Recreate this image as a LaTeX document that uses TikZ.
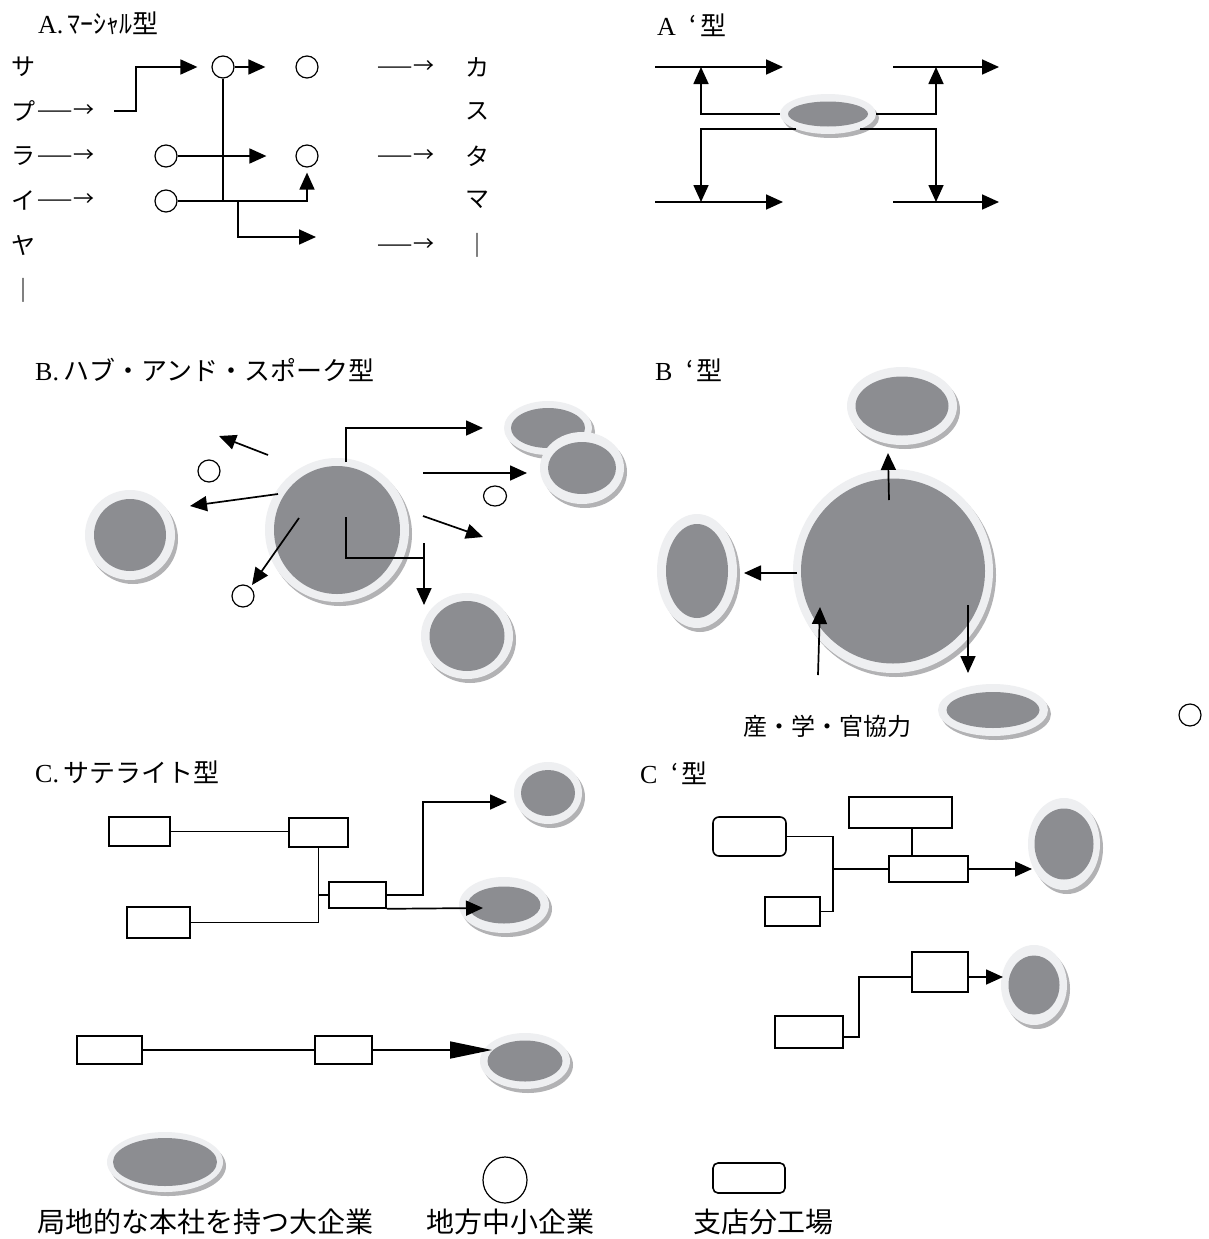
\documentclass[tikz,border=0pt]{standalone}
\usepackage{fontspec}
\setmainfont{Noto Sans CJK JP}
\newfontfamily\lat{Liberation Serif}
\usetikzlibrary{arrows.meta,shapes.geometric}
\definecolor{rimc}{HTML}{EEEFF1}
\definecolor{corec}{HTML}{8C8D91}
\definecolor{shadc}{HTML}{B2B2B4}
\newcommand\ent[7]{%
  \fill[shadc] (#2+3,#3+4) ellipse [x radius=#4, y radius=#5];
  \node[rim, minimum width=2*#4, minimum height=2*#5] (#1) at (#2,#3) {};
  \fill[corec] (#2,#3) ellipse [x radius=#6, y radius=#7];
}
\begin{document}
\begin{tikzpicture}[x=1pt,y=-1pt,
  rim/.style={ellipse, fill=rimc, inner sep=0pt, draw=none},
  sme/.style={circle, draw, line width=1.2pt, minimum size=22pt, inner sep=0pt},
  br/.style={draw, line width=1.6pt, inner sep=0pt, fill=white},
  ln/.style={line width=1.7pt},
  arr/.style={ln, -{Triangle[length=17pt,width=15pt]}},
  longarr/.style={ln, -{Triangle[length=42pt,width=17pt]}},
  lbl/.style={inner sep=0pt, font=\fontsize{24}{28}\selectfont},
  dsh/.style={inner sep=0pt, font=\fontsize{21}{24}\selectfont},
  ttl/.style={inner sep=0pt, anchor=west, font=\fontsize{26}{30}\selectfont},
  lgd/.style={inner sep=0pt, font=\fontsize{28}{32}\selectfont}]
\fill[white] (0,0) rectangle (1208,1239);
\useasboundingbox (0,0) rectangle (1208,1239);

% ================= A =================
\node[ttl] (tA) at (38,23) {{\lat A.}\,ﾏｰｼｬﾙ型};
\node[lbl] (sl1) at (23,67) {サ};
\node[lbl] (sl2) at (23,111) {プ};
\node[lbl] (sl3) at (23,156) {ラ};
\node[lbl] (sl4) at (23,200) {イ};
\node[lbl] (sl5) at (23,245) {ヤ};
\node[lbl] (sl6) at (23,290) {｜};
\node[dsh] (dl1) at (66,111) {——→};
\node[dsh] (dl2) at (66,156) {——→};
\node[dsh] (dl3) at (66,200) {——→};
\node[lbl] (sr1) at (477,67) {カ};
\node[lbl] (sr2) at (477,111) {ス};
\node[lbl] (sr3) at (477,156) {タ};
\node[lbl] (sr4) at (477,200) {マ};
\node[lbl] (sr5) at (477,245) {｜};
\node[dsh] (dr1) at (406,67) {——→};
\node[dsh] (dr2) at (406,156) {——→};
\node[dsh] (dr3) at (406,245) {——→};

\node[sme] (a1) at (223,67) {};
\node[sme] (a2) at (307,67) {};
\node[sme] (a3) at (166,156) {};
\node[sme] (a4) at (307,156) {};
\node[sme] (a5) at (166,201) {};
\coordinate (as) at (114,111);
\coordinate (ab) at (238,201);
\coordinate (ae) at (316,237);
\draw[arr, shorten >=14pt] (as) -- (136,111) |- (a1.west);
\draw[arr, shorten >=30pt] (a1) -- (a2);
\draw[ln] (a1.south) -- (a1 |- a5);
\draw[arr, shorten >=29pt] (a3) -- (a4);
\draw[arr, shorten >=5pt] (a5.east) -| (a4.south);
\draw[arr] (ab) |- (ae);

% ================= A' =================
\node[ttl] (tA2) at (657,25) {{\lat A}\hspace{14pt}‘\hspace{3pt}型};
\ent{ea}{828}{114}{48}{20}{40}{12.5}
\coordinate (p1) at (655,67);  \coordinate (p2) at (783,67);
\coordinate (p3) at (655,202); \coordinate (p4) at (783,202);
\coordinate (p5) at (893,67);  \coordinate (p6) at (999,67);
\coordinate (p7) at (893,202); \coordinate (p8) at (999,202);
\coordinate (q1) at (701,67);  \coordinate (q2) at (701,202);
\coordinate (q3) at (936,67);  \coordinate (q4) at (936,202);
\draw[arr] (p1) -- (p2);
\draw[arr] (p3) -- (p4);
\draw[arr] (p5) -- (p6);
\draw[arr] (p7) -- (p8);
\draw[arr] (ea.west) -| (q1);
\draw[arr] (ea.205) -| (q2);
\draw[arr] (ea.east) -| (q3);
\draw[arr] (ea.-25) -| (q4);

% ================= B =================
\node[ttl] (tB) at (35,370) {{\lat B.}\,ハブ・アンド・スポーク型};
\ent{bl}{130}{535}{45}{45}{36}{36}
\ent{bc}{337}{530}{72}{72}{63}{64}
\ent{bt1}{548}{428}{44}{27}{37}{20}
\ent{bt2}{582}{468}{42}{36}{34}{26}
\ent{bb}{467}{636}{46}{43}{37.5}{35}
\node[sme] (bs1) at (209,471) {};
\node[sme] (bs2) at (243,596) {};
\node[sme, minimum width=23pt, minimum height=20pt, ellipse] (bs3) at (495,496) {};
\coordinate (b1s) at (346,462);  \coordinate (b1e) at (483,428);
\coordinate (b2s) at (268,455);  \coordinate (b2e) at (219,436);
\coordinate (b3s) at (278,494);  \coordinate (b3e) at (190,506);
\coordinate (b4s) at (299,518);  \coordinate (b4e) at (252,585);
\coordinate (b5s) at (423,473);  \coordinate (b5e) at (527,473);
\coordinate (b6s) at (423,516);  \coordinate (b6e) at (483,537);
\coordinate (b7s) at (346,517);  \coordinate (b7e) at (424,558);
\coordinate (b8s) at (424,543);  \coordinate (b8e) at (424,605);
\draw[arr] (b1s) |- (b1e);
\draw[arr] (b2s) -- (b2e);
\draw[arr] (b3s) -- (b3e);
\draw[arr] (b4s) -- (b4e);
\draw[arr] (b5s) -- (b5e);
\draw[arr] (b6s) -- (b6e);
\draw[ln] (b7s) |- (b7e);
\draw[arr] (b8s) -- (b8e);

% ================= B' =================
\node[ttl] (tB2) at (655,370) {{\lat B}\hspace{14pt}‘\hspace{3pt}型};
\ent{bpt}{902}{406}{55}{39}{46.5}{29.5}
\ent{bpc}{893}{571}{100}{102}{92}{92.5}
\ent{bpl}{697}{571}{40}{57}{31}{47}
\ent{bpr}{993}{710}{55}{26}{46.5}{18}
\coordinate (c1s) at (889,500); \coordinate (c1e) at (888,453);
\coordinate (c2s) at (797,573); \coordinate (c2e) at (744,573);
\coordinate (c3s) at (818,675); \coordinate (c3e) at (820,607);
\coordinate (c4s) at (968,605); \coordinate (c4e) at (968,673);
\draw[arr] (c1s) -- (c1e);
\draw[arr] (c2s) -- (c2e);
\draw[arr] (c3s) -- (c3e);
\draw[arr] (c4s) -- (c4e);
\node[lbl] (iga) at (827,726) {産・学・官協力};
\node[sme] (lone) at (1190,715) {};

% ================= C =================
\node[ttl] (tC) at (35,772) {{\lat C.}\,サテライト型};
\ent{ct1}{548}{793}{34}{31}{27}{23}
\ent{ct2}{504}{905}{45}{28}{36.5}{18.5}
\ent{ct3}{525}{1061}{45}{28}{37.5}{20.5}
\node[br, minimum width=61pt, minimum height=29pt] (r1) at (139.5,831.5) {};
\node[br, minimum width=59pt, minimum height=29pt] (r2) at (318.5,832.5) {};
\node[br, minimum width=63pt, minimum height=31pt] (r3) at (158.5,922.5) {};
\node[br, minimum width=57pt, minimum height=26pt] (r4) at (357.5,895) {};
\node[br, minimum width=65pt, minimum height=28pt] (r5) at (109.5,1050) {};
\node[br, minimum width=57pt, minimum height=28pt] (r6) at (343.5,1050) {};
\coordinate (cm) at (423,802);
\coordinate (ce) at (507,802);
\coordinate (ce2) at (483,908);
\coordinate (ce3) at (492,1050);
\draw[ln] (r1.east) -- (r1.east -| r2.west);
\draw[ln] (r2.south) -- (r2.south |- r3.east) -- (r3.east);
\draw[ln] (r2.south |- r4.west) -- (r4.west);
\draw[arr] (r4.east) -| (cm) -- (ce);
\draw[arr] (r4.south east) -- (ce2);
\draw[ln] (r5) -- (r6);
\draw[longarr] (r6.east) -- (ce3);

% ================= C' =================
\node[ttl] (tC2) at (640,773) {{\lat C}\hspace{14pt}‘\hspace{3pt}型};
\ent{cpr}{1064}{844}{36}{46}{29.5}{35.5}
\ent{cpl}{1034}{985}{33}{40}{25.5}{29.5}
\node[br, rounded corners=6pt, minimum width=73pt, minimum height=39pt] (rr) at (749.5,836.5) {};
\node[br, minimum width=103pt, minimum height=31pt] (q1n) at (900.5,812.5) {};
\node[br, minimum width=79pt, minimum height=26pt] (q2n) at (928.5,869) {};
\node[br, minimum width=55pt, minimum height=29pt] (q3n) at (792.5,911.5) {};
\node[br, minimum width=56pt, minimum height=40pt] (q4n) at (940,972) {};
\node[br, minimum width=68pt, minimum height=32pt] (q5n) at (809,1032) {};
\coordinate (cx) at (833,869);
\coordinate (cx2) at (859,977);
\coordinate (cf1) at (1032,869);
\coordinate (cf2) at (1003,977);
\draw[ln] (rr.east) -| (cx) |- (q3n.east);
\draw[ln] (cx) -- (q2n.west);
\draw[ln] ([xshift=11.5pt]q1n.south) -- ([xshift=11.5pt]q1n.south |- q2n.north);
\draw[arr] (q2n.east) -- (cf1);
\draw[ln] ([yshift=-5pt]q5n.east) -| (cx2) -- ([yshift=-5pt]q4n.west);
\draw[arr] ([yshift=-5pt]q4n.east) -- (cf2);

% ================= Legend =================
\ent{lg1}{165}{1162}{58}{30}{52}{24}
\node[ellipse, draw, line width=1.2pt, minimum width=44pt, minimum height=46pt, inner sep=0pt] (lg2) at (505,1180) {};
\node[br, rounded corners=5pt, minimum width=72pt, minimum height=30pt] (lg3) at (749,1178) {};
\node[lgd] (lt1) at (205,1222) {局地的な本社を持つ大企業};
\node[lgd] (lt2) at (510,1222) {地方中小企業};
\node[lgd] (lt3) at (763,1222) {支店分工場};
\end{tikzpicture}
\end{document}
